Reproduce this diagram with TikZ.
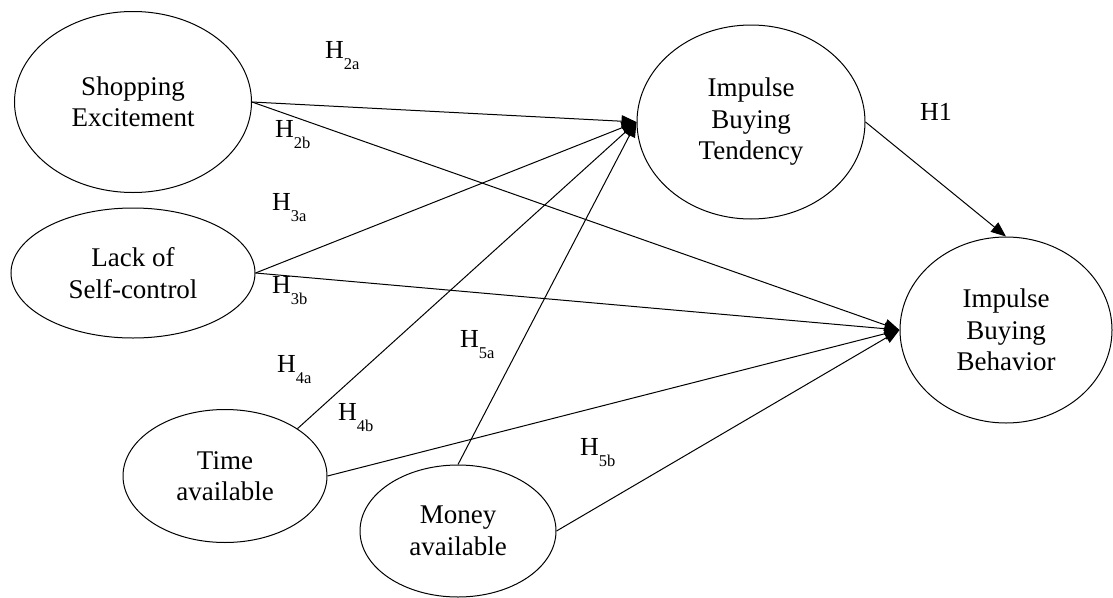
\documentclass[tikz,border=0pt]{standalone}
\usepackage{fontspec}
\setmainfont{Liberation Serif}
\usetikzlibrary{arrows.meta,shapes.geometric}
\newcommand{\hyp}[1]{H\raisebox{-11pt}{\fontsize{16.5}{16.5}\selectfont #1}}
\tikzset{
  ell/.style={ellipse, draw, line width=1pt, inner sep=0pt, align=center,
    font=\fontsize{27}{31.5}\selectfont},
  conn/.style={line width=1pt, -{Triangle[length=15pt,width=12pt]}},
  hlab/.style={anchor=base west, inner sep=0pt, font=\fontsize{26}{26}\selectfont}
}
\begin{document}
\begin{tikzpicture}[x=1pt,y=-1pt]
\useasboundingbox (0,0) rectangle (1113,597);
\node[ell, minimum width=237pt, minimum height=181pt] (se) at (133,102) {Shopping\\Excitement};
\node[ell, minimum width=244pt, minimum height=130pt] (lsc) at (133,273) {Lack of\\Self-control};
\node[ell, minimum width=204pt, minimum height=133pt] (ta) at (225,476) {Time\\available};
\node[ell, minimum width=196pt, minimum height=132pt] (ma) at (458,531) {Money\\available};
\node[ell, minimum width=228pt, minimum height=194pt] (ibt) at (751,122) {Impulse\\Buying\\Tendency};
\node[ell, minimum width=212pt, minimum height=186pt] (ibb) at (1006,330) {Impulse\\Buying\\Behavior};

\draw[conn] (se.east) -- (ibt.west);
\draw[conn] (se.east) -- (ibb.west);
\draw[conn] (lsc.east) -- (ibt.west);
\draw[conn] (lsc.east) -- (ibb.west);
\draw[conn] (ta.north east) -- (ibt.west);
\draw[conn] (ta.east) -- (ibb.west);
\draw[conn] (ma.north) -- (ibt.west);
\draw[conn] (ma.east) -- (ibb.west);
\draw[conn] (ibt.east) -- (ibb.north);

\node[hlab] (h2a) at (325,58) {\hyp{2a}};
\node[hlab] (h2b) at (275,137) {\hyp{2b}};
\node[hlab] (h3a) at (272,210) {\hyp{3a}};
\node[hlab] (h3b) at (272,293) {\hyp{3b}};
\node[hlab] (h4a) at (277,372) {\hyp{4a}};
\node[hlab] (h4b) at (338,420) {\hyp{4b}};
\node[hlab] (h5a) at (460,347) {\hyp{5a}};
\node[hlab] (h5b) at (580,455) {\hyp{5b}};
\node[hlab] (h1) at (920,120) {H1};
\end{tikzpicture}
\end{document}
